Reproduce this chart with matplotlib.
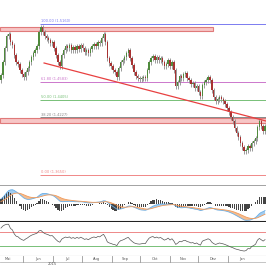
import numpy as np
import pandas as pd
import matplotlib
matplotlib.use("Agg")
import matplotlib.pyplot as plt

# 表示範囲より前の終値（指標の計算用）
prior_closes = [1.445, 1.442, 1.438, 1.436, 1.433, 1.430, 1.428, 1.431, 1.434, 1.437,
                1.440, 1.443, 1.447, 1.450, 1.452, 1.455, 1.457, 1.458, 1.460, 1.462]

# 価格データ（終値）
first_open = 1.460
closes = [1.465, 1.478, 1.492, 1.504, 1.506, 1.498, 1.495, 1.485, 1.478, 1.476,
          1.470, 1.466, 1.463, 1.468, 1.472, 1.478, 1.483, 1.487, 1.490, 1.494,
          1.508, 1.513, 1.508, 1.504, 1.502, 1.500, 1.497, 1.498, 1.492, 1.485,
          1.478, 1.474, 1.485, 1.490, 1.494, 1.492, 1.495, 1.490, 1.493, 1.490,
          1.494, 1.491, 1.495, 1.492, 1.488, 1.490, 1.487, 1.491, 1.494, 1.496,
          1.494, 1.498, 1.497, 1.502, 1.506, 1.498, 1.482, 1.477, 1.474, 1.470,
          1.468, 1.463, 1.472, 1.478, 1.480, 1.483, 1.487, 1.490, 1.482, 1.475,
          1.468, 1.464, 1.462, 1.461, 1.462, 1.463, 1.462, 1.470, 1.478, 1.482,
          1.484, 1.480, 1.483, 1.480, 1.482, 1.478, 1.474, 1.476, 1.480, 1.474,
          1.478, 1.470, 1.454, 1.458, 1.464, 1.462, 1.466, 1.467, 1.462, 1.460,
          1.456, 1.457, 1.452, 1.454, 1.448, 1.444, 1.455, 1.458, 1.460, 1.463,
          1.460, 1.450, 1.443, 1.439, 1.441, 1.443, 1.441, 1.439, 1.436, 1.432,
          1.428, 1.423, 1.419, 1.412, 1.407, 1.403, 1.397, 1.393, 1.389, 1.390,
          1.394, 1.392, 1.397, 1.399, 1.402, 1.413, 1.419, 1.414, 1.409, 1.414]
wick = 0.0025

# フィボナッチ・リトレースメント
fib_high = 1.516
fib_low = 1.365
fib_levels = [100.0, 61.8, 50.0, 38.2, 0.0]
fib_colors = ["#7b7bf0", "#cc77cc", "#77c077", "#888888", "#f08888"]
fib_start = 20.5

# トレンドライン（始点と終点）
trend_idx = [22.7, 139.5]
trend_price = [1.477, 1.419]

# 抵抗・支持ゾーン
zone_upper = (1.509, 1.513, 112)
zone_lower = (1.417, 1.422, 140)

# x軸ラベル
month_labels = ["Mai", "Jun", "Jul", "Aug", "Sep", "Okt", "Nov", "Dez", "Jan"]
month_pos = [3.7, 19.5, 34.8, 50.5, 65.3, 81.1, 95.8, 111.6, 126.9]
month_bounds = [11.6, 27.4, 42.7, 58.4, 73.2, 89.0, 103.7, 119.5]
year_label = "2015"
year_pos = 27

n = len(closes)
k = len(prior_closes)
close_all = pd.Series(prior_closes + closes)
opens = np.r_[first_open, closes[:-1]]
c = np.array(closes)
idx = np.arange(n)

# MACD
ema12 = close_all.ewm(span=12, adjust=False).mean()
ema26 = close_all.ewm(span=26, adjust=False).mean()
macd_all = ema12 - ema26
signal_all = macd_all.ewm(span=9, adjust=False).mean()
macd = macd_all.values[k:]
signal = signal_all.values[k:]
hist = macd - signal

# RSI
diff = close_all.diff().fillna(0)
gain = diff.clip(lower=0).ewm(alpha=1/14, adjust=False).mean()
loss = (-diff.clip(upper=0)).ewm(alpha=1/14, adjust=False).mean()
rsi = (100 - 100 / (1 + gain / loss.replace(0, 1e-9))).values[k:]

fig = plt.figure(figsize=(2.66, 2.66), dpi=100)
ax1 = fig.add_axes([0, 1 - 186/266, 1, 186/266])
ax2 = fig.add_axes([0, 1 - 222/266, 1, 36/266])
ax3 = fig.add_axes([0, 1 - 256/266, 1, 34/266])
ax4 = fig.add_axes([0, 0, 1, 10/266])

for ax in (ax1, ax2, ax3, ax4):
    ax.set_xlim(-0.5, n - 0.5)
    ax.set_xticks([])
    ax.set_yticks([])
    for s in ax.spines.values():
        s.set_visible(False)

# メインチャート
ax1.set_ylim(1.354, 1.540)
ax1.axhspan(zone_upper[0], zone_upper[1], xmin=0, xmax=zone_upper[2] / n,
            facecolor="#f7c6c6", edgecolor="#e07a7a", lw=0.8, zorder=1)
ax1.axhspan(zone_lower[0], zone_lower[1], xmin=0, xmax=1,
            facecolor="#f7c6c6", edgecolor="#e07a7a", lw=0.8, zorder=1)
for lev, col in zip(fib_levels, fib_colors):
    p = fib_low + (fib_high - fib_low) * lev / 100
    ax1.hlines(p, fib_start, n - 0.5, color=col, lw=0.7, zorder=2)
    ax1.text(fib_start + 0.5, p + 0.0008, "%.2f (%.4f)" % (lev, p),
             fontsize=2.6, color=col, va="bottom", ha="left")

up = c >= opens
colors = np.where(up, "#4f8a3c", "#a83232")
ax1.vlines(idx, np.minimum(opens, c) - wick, np.maximum(opens, c) + wick,
           color="#8a8a8a", lw=0.6, zorder=3)
ax1.bar(idx, np.abs(c - opens) + 0.0006, bottom=np.minimum(opens, c) - 0.0003,
        width=0.7, color=colors, zorder=4)
ax1.plot(trend_idx, trend_price, color="#e84040", lw=0.9, zorder=5)
ax1.spines["bottom"].set_visible(True)
ax1.spines["bottom"].set_color("#999999")
ax1.spines["bottom"].set_linewidth(2)

# MACDパネル
m = max(np.abs(macd).max(), np.abs(signal).max()) * 1.1
ax2.set_ylim(-m, m)
ax2.fill_between(idx, macd, signal, where=macd >= signal, color="#a3cdf0",
                 interpolate=True, lw=0)
ax2.fill_between(idx, macd, signal, where=macd < signal, color="#f5bd90",
                 interpolate=True, lw=0)
ax2.plot(idx, macd, color="#6aaee6", lw=0.6)
ax2.plot(idx, signal, color="#f09a5a", lw=0.6)
ax2.bar(idx, hist * 2, width=0.6, color="#444444")
ax2.spines["bottom"].set_visible(True)
ax2.spines["bottom"].set_color("#222222")
ax2.spines["bottom"].set_linewidth(1.5)

# RSIパネル
ax3.set_ylim(0, 100)
ax3.axhline(70, color="#ee8888", lw=0.7)
ax3.axhline(30, color="#77c077", lw=0.7)
ax3.plot(idx, rsi, color="#555555", lw=0.5)
ax3.spines["bottom"].set_visible(True)
ax3.spines["bottom"].set_color("#999999")
ax3.spines["bottom"].set_linewidth(0.8)

# x軸
ax4.set_ylim(0, 1)
ax4.axhline(0.45, color="#bbbbbb", lw=0.6)
for b in month_bounds:
    ax4.axvline(b, 0.45, 1, color="#999999", lw=0.6)
for lab, pos in zip(month_labels, month_pos):
    ax4.text(pos, 0.72, lab, fontsize=2.6, ha="center", va="center", color="#555555")
ax4.text(year_pos, 0.2, year_label, fontsize=2.6, ha="center", va="center", color="#555555")

fig.savefig("out.png", dpi=100)
